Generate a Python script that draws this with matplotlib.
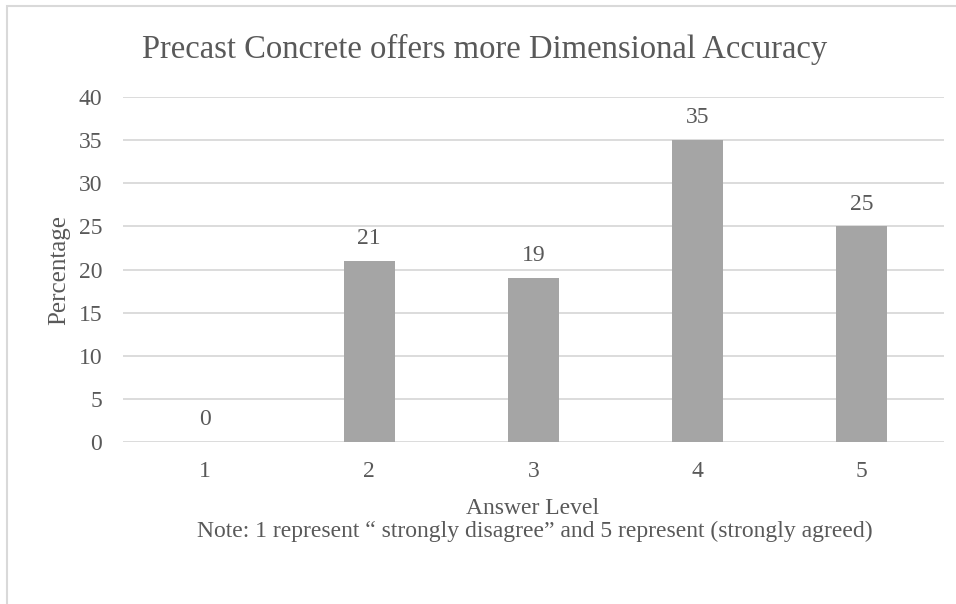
import matplotlib.pyplot as plt
from matplotlib.patches import Rectangle

# answer levels and percentages
levels = ['1', '2', '3', '4', '5']
percent = [0, 21, 19, 35, 25]
yticks = [0, 5, 10, 15, 20, 25, 30, 35, 40]

txt = '#595959'
plt.rcParams['font.family'] = ['Liberation Serif', 'DejaVu Serif']

W, H = 956, 604
fig = plt.figure(figsize=(W / 100, H / 100), dpi=100)
ax = fig.add_axes([123 / W, 1 - 442 / H, (944 - 123) / W, (442 - 97) / H])

x = range(len(levels))
bars = ax.bar(x, percent, width=0.31, color='#A5A5A5', zorder=3)
for b, v in zip(bars, percent):
    ax.annotate(str(v), (b.get_x() + b.get_width() / 2, v), xytext=(0, 12),
                textcoords='offset points', ha='center', va='baseline',
                fontsize=17, color=txt)

ax.set_xlim(-0.5, len(levels) - 0.5)
ax.set_ylim(0, 40)
ax.set_yticks(yticks)
ax.set_xticks(list(x))
ax.set_xticklabels(levels)
ax.tick_params(axis='both', length=0, labelsize=17, labelcolor=txt)
ax.tick_params(axis='y', pad=15)
ax.tick_params(axis='x', pad=14)
ax.grid(axis='y', color='#D9D9D9', linewidth=1.3, zorder=0)
for s in ax.spines.values():
    s.set_visible(False)

fig.text(59 / W, 1 - 270 / H, 'Percentage', rotation=90, ha='center', va='center',
         fontsize=18, color=txt)
fig.text(533 / W, 1 - 514 / H, 'Answer Level', ha='center', va='baseline',
         fontsize=17, color=txt)
fig.text(535 / W, 1 - 537 / H,
         'Note: 1 represent \u201c strongly disagree\u201d and 5 represent (strongly agreed)',
         ha='center', va='baseline', fontsize=17, color=txt)
fig.text(485 / W, 1 - 58 / H, 'Precast Concrete offers more Dimensional Accuracy',
         ha='center', va='baseline', fontsize=23.5, color=txt)

# chart frame (only top and left edges show)
fig.patches.append(Rectangle((7 / W, -0.1), 1.1, 1 - 6 / H + 0.1,
                             transform=fig.transFigure, fill=False,
                             edgecolor='#D9D9D9', linewidth=1.5))

fig.savefig('out.png', dpi=100)
